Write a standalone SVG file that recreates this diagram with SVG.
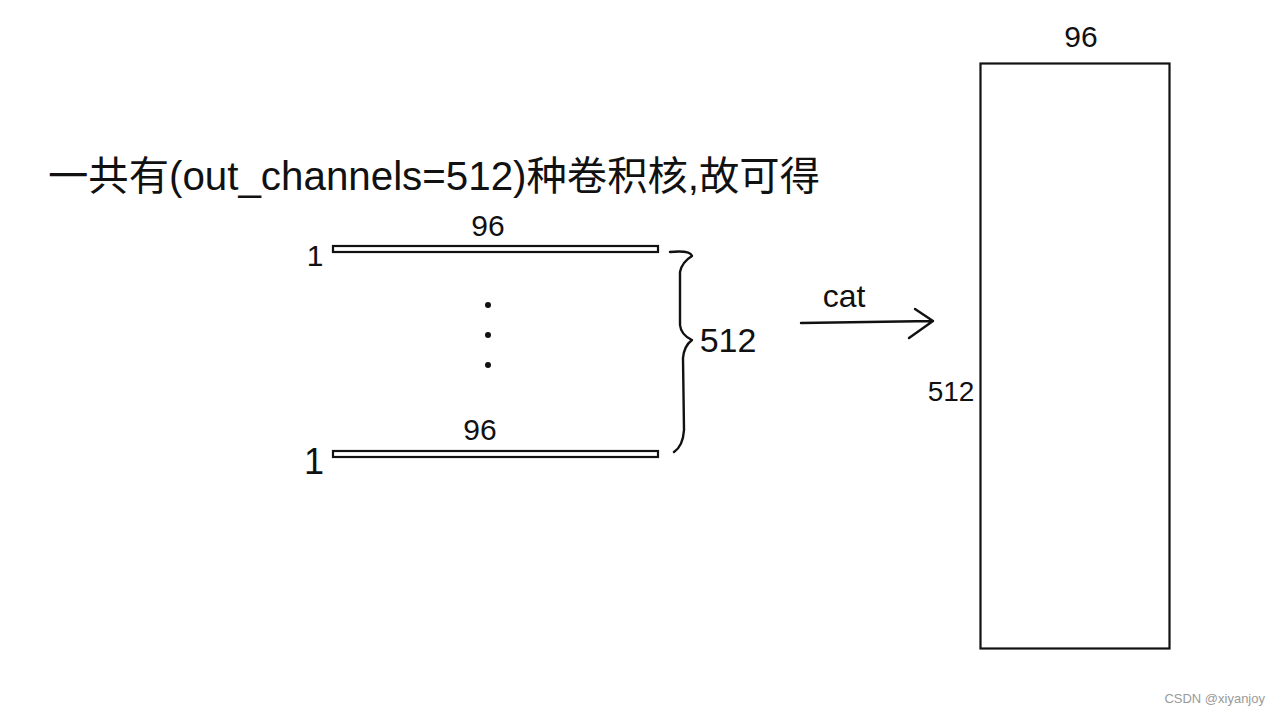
<svg xmlns="http://www.w3.org/2000/svg" width="1280" height="714" viewBox="0 0 1280 714">
<style>
.hand{font-family:"Liberation Sans","Noto Sans CJK SC",sans-serif;fill:#111;}
.ln{fill:none;stroke:#111;stroke-width:2.4;stroke-linecap:round;stroke-linejoin:round;}
.bar{fill:#fff;stroke:#111;stroke-width:2.2;}
</style>
<rect width="1280" height="714" fill="#fff"/>
<g id="title">
<text class="hand" x="48" y="190" font-size="40" textLength="772" lengthAdjust="spacingAndGlyphs">一共有(out_channels=512)种卷积核,故可得</text>
</g>
<g id="bar-top">
<rect class="bar" x="333" y="246" width="325" height="6"/>
<text class="hand" x="488" y="236" font-size="30" text-anchor="middle">96</text>
<text class="hand" x="315" y="266" font-size="30" text-anchor="middle">1</text>
</g>
<g id="dots">
<circle cx="488" cy="305" r="3" fill="#111"/>
<circle cx="488" cy="335" r="3" fill="#111"/>
<circle cx="488" cy="365" r="3" fill="#111"/>
</g>
<g id="bar-bottom">
<rect class="bar" x="333" y="451" width="325" height="6"/>
<text class="hand" x="480" y="440" font-size="30" text-anchor="middle">96</text>
<text class="hand" x="314" y="474" font-size="36" text-anchor="middle">1</text>
</g>
<g id="brace">
<path class="ln" d="M670 252 Q690 250 692 256 Q682 262 680 272 L680 325 Q681 335 692 340 Q684 346 683 358 L684 430 Q683 446 674 452"/>
<text class="hand" x="728" y="352" font-size="34" text-anchor="middle">512</text>
</g>
<g id="connectors">
<path class="ln" d="M801 323 L933 321 M915 309 L933 321 L909 338"/>
<text class="hand" x="844" y="307" font-size="32" text-anchor="middle">cat</text>
</g>
<g id="result">
<rect x="980.5" y="63.5" width="189" height="585" fill="#fff" stroke="#111" stroke-width="2.2"/>
<text class="hand" x="1081" y="47" font-size="30" text-anchor="middle">96</text>
<text class="hand" x="951" y="401" font-size="28" text-anchor="middle">512</text>
</g>
<text x="1265" y="703" font-family="Liberation Sans,sans-serif" font-size="13" fill="#9a9a9a" text-anchor="end">CSDN @xiyanjoy</text>
</svg>
